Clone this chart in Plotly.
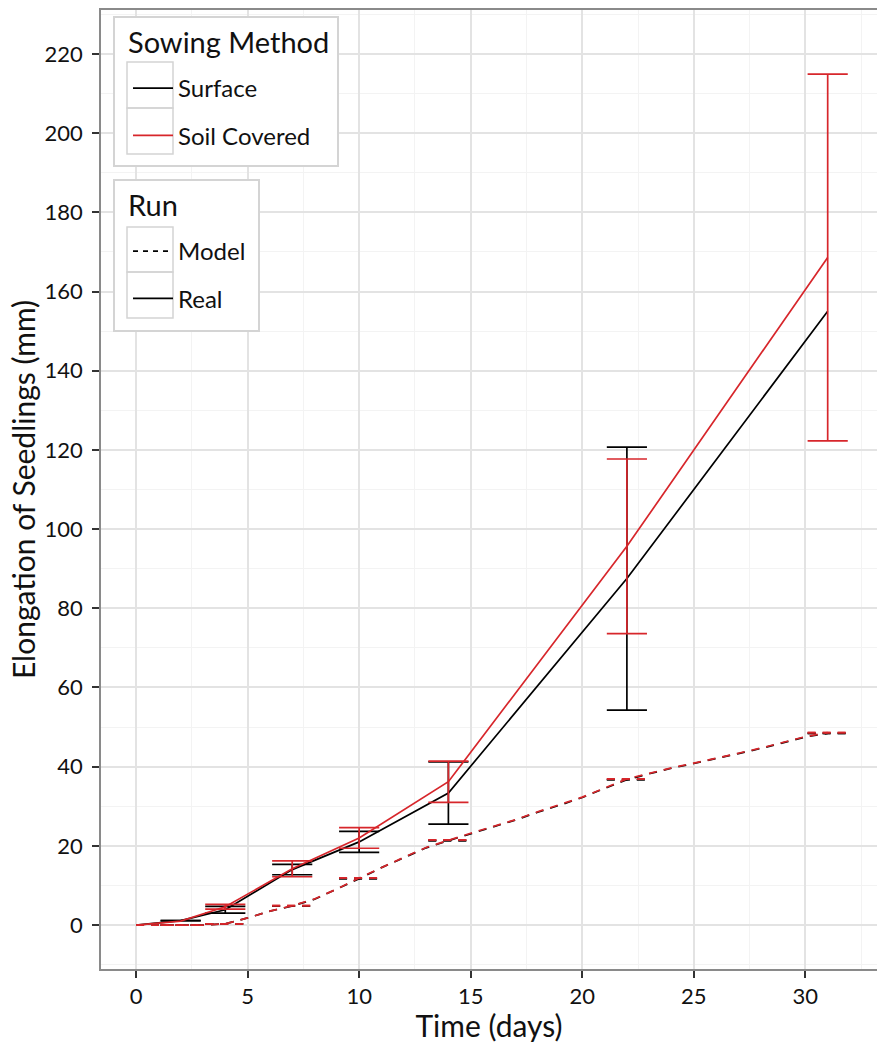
import plotly.graph_objects as go

# measured sampling days
days = [0, 2, 4, 7, 10, 14, 22, 31]

# real runs: mean and standard error (None = no error bar drawn)
surface_mean = [0, 1.1, 3.85, 14.0, 21.0, 33.35, 87.5, 155.0]
surface_se = [None, 0.0, 0.85, 1.3, 2.65, 7.85, 33.2, None]
soil_mean = [0, 1.0, 4.6, 14.2, 22.0, 36.2, 95.65, 168.6]
soil_se = [None, None, 0.6, 2.0, 2.6, 5.2, 22.05, 46.3]

# model runs (daily), both sowing methods give almost the same curve
model_days = list(range(0, 32))
model_surface = [0, 0, 0, 0, 0.3, 1.8, 3.5, 4.8, 6.5, 9.0, 11.7, 14.5, 17.0, 19.5,
                 21.3, 23.1, 24.8, 26.5, 28.5, 30.3, 32.2, 34.5, 36.7, 38.2, 39.6,
                 40.8, 42.0, 43.3, 44.6, 46.0, 47.5, 48.4]
model_soil = [0, 0, 0, 0, 0.3, 1.8, 3.5, 4.9, 6.6, 9.1, 11.9, 14.6, 17.1, 19.6,
              21.5, 23.2, 24.9, 26.6, 28.6, 30.4, 32.3, 34.6, 36.9, 38.3, 39.7,
              40.9, 42.1, 43.4, 44.7, 46.1, 47.6, 48.6]

BLACK = "#000000"
RED = "#d7262b"
FONT = "Lato"
TXT = "#111111"
HW = 0.9  # half width of the error bar caps, in days

W, H = 877, 1043
# plot area in screen pixels (used only to place the legend boxes)
L, R, T, B = 101, 877, 10, 969


def px(x):
    return (x - L) / (R - L)


def py(y):
    return (B - y) / (B - T)


def errorbars(xs, means, ses):
    # segments for ggplot-like error bars, built from the data
    X, Y = [], []
    for x, m, s in zip(xs, means, ses):
        if s is None:
            continue
        lo, hi = m - s, m + s
        X += [x - HW, x + HW, None, x, x, None, x - HW, x + HW, None]
        Y += [hi, hi, None, hi, lo, None, lo, lo, None]
    return X, Y


def model_at(vals):
    return [vals[model_days.index(d)] for d in days[1:]]


fig = go.Figure()

for name, color, mean, se, model in [
    ("Surface", BLACK, surface_mean, surface_se, model_surface),
    ("Soil Covered", RED, soil_mean, soil_se, model_soil),
]:
    fig.add_trace(go.Scatter(x=days, y=mean, mode="lines",
                             line=dict(color=color, width=1.7), showlegend=False))
    ex, ey = errorbars(days, mean, se)
    fig.add_trace(go.Scatter(x=ex, y=ey, mode="lines",
                             line=dict(color=color, width=1.7), showlegend=False))
    fig.add_trace(go.Scatter(x=model_days, y=model, mode="lines",
                             line=dict(color=color, width=1.7, dash="8px,7px"),
                             showlegend=False))
    mx, my = errorbars(days[1:], model_at(model), [0] * (len(days) - 1))
    fig.add_trace(go.Scatter(x=mx, y=my, mode="lines",
                             line=dict(color=color, width=1.7, dash="8px,7px"),
                             showlegend=False))

# legend entries
fig.add_trace(go.Scatter(x=[None], y=[None], mode="lines", name="Surface",
                         line=dict(color=BLACK, width=1.7), legend="legend",
                         legendgroup="a"))
fig.add_trace(go.Scatter(x=[None], y=[None], mode="lines", name="Soil Covered",
                         line=dict(color=RED, width=1.7), legend="legend",
                         legendgroup="b"))
fig.add_trace(go.Scatter(x=[None], y=[None], mode="lines", name="Model",
                         line=dict(color=BLACK, width=1.7, dash="5px,5px"),
                         legend="legend2", legendgroup="c"))
fig.add_trace(go.Scatter(x=[None], y=[None], mode="lines", name="Real",
                         line=dict(color=BLACK, width=1.7), legend="legend2",
                         legendgroup="d"))

legend_style = dict(
    xanchor="left", yanchor="top", bgcolor="rgba(0,0,0,0)", borderwidth=0,
    font=dict(family=FONT, size=24, color=TXT),
    itemwidth=40, tracegroupgap=13,
)

# legend frames and key boxes, ggplot style
shapes = []
for x0, y0, x1, y1 in [(114, 17, 338, 166), (114, 180, 259, 331)]:
    shapes.append(dict(type="rect", xref="paper", yref="paper", layer="above",
                       x0=px(x0), x1=px(x1), y0=py(y0), y1=py(y1),
                       fillcolor="white", line=dict(color="#d4d4d4", width=2)))
for y0, y1 in [(62, 108), (108, 154), (227, 272), (272, 318)]:
    shapes.append(dict(type="rect", xref="paper", yref="paper", layer="above",
                       x0=px(127), x1=px(173), y0=py(y0), y1=py(y1),
                       line=dict(color="#d4d4d4", width=1.5)))

annotations = [
    dict(text="Sowing Method", x=px(126), y=py(42), xref="paper", yref="paper",
         xanchor="left", yanchor="middle", showarrow=False,
         font=dict(family=FONT, size=29, color=TXT)),
    dict(text="Run", x=px(126), y=py(205), xref="paper", yref="paper",
         xanchor="left", yanchor="middle", showarrow=False,
         font=dict(family=FONT, size=29, color=TXT)),
]

fig.update_layout(
    width=W, height=H,
    margin=dict(l=L, r=W - R, t=T, b=H - B),
    plot_bgcolor="white", paper_bgcolor="white",
    font=dict(family=FONT, size=22, color=TXT),
    shapes=shapes, annotations=annotations,
    legend=dict(x=px(128), y=py(66), **legend_style),
    legend2=dict(x=px(128), y=py(229), **legend_style),
    xaxis=dict(
        range=[-1.57, 33.21], tickvals=[0, 5, 10, 15, 20, 25, 30],
        ticks="outside", ticklen=7, tickcolor="#333333", tickwidth=1.5,
        showline=True, linecolor="#8a8a8a", linewidth=1.5, mirror=True,
        showgrid=True, gridcolor="#e3e3e3", gridwidth=1.6, zeroline=False,
        minor=dict(dtick=2.5, tick0=0, showgrid=True, gridcolor="#f3f3f3",
                   gridwidth=1),
        title=dict(text="Time (days)", font=dict(family=FONT, size=30), standoff=2),
        tickfont=dict(family=FONT, size=22, color=TXT),
        automargin=False,
    ),
    yaxis=dict(
        range=[-11.1, 231.1], tickvals=list(range(0, 221, 20)),
        ticks="outside", ticklen=7, tickcolor="#333333", tickwidth=1.5,
        showline=True, linecolor="#8a8a8a", linewidth=1.5, mirror=True,
        showgrid=True, gridcolor="#e3e3e3", gridwidth=1.6, zeroline=False,
        minor=dict(dtick=10, tick0=0, showgrid=True, gridcolor="#f3f3f3",
                   gridwidth=1),
        title=dict(text="Elongation of Seedlings (mm)",
                   font=dict(family=FONT, size=30), standoff=0),
        tickfont=dict(family=FONT, size=22, color=TXT),
        ticklabelstandoff=5,
        automargin=False,
    ),
)

# drop the default body margin so the figure fills the window exactly
fig.write_html("out.html", config={"displayModeBar": False},
               post_script="document.body.style.margin='0';"
                           "document.body.style.overflow='hidden';")
